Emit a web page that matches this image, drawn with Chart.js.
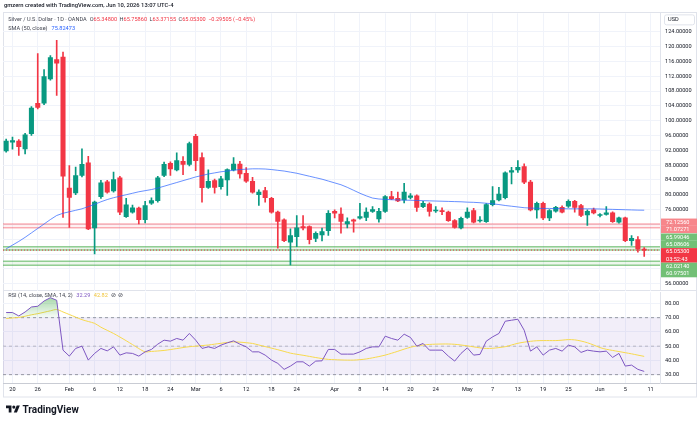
<!DOCTYPE html>
<html lang="en">
<head>
  <meta charset="UTF-8">
  <title>Silver / U.S. Dollar - 1D - OANDA</title>
  <script src="https://cdn.jsdelivr.net/npm/chart.js"></script>
  <style>
    html, body { margin: 0; padding: 0; background: #fff; }
    #page { position: relative; width: 700px; height: 423px; overflow: hidden; }
    #bg { position: absolute; left: 0; top: 0; }
    #priceBox { position: absolute; left: 3px; top: 13px; width: 694px; height: 277px; }
    #rsiBox { position: absolute; left: 3px; top: 290px; width: 694px; height: 107px; }
  </style>
</head>
<body>
<div id="page">
  <canvas id="bg" width="700" height="423"></canvas>
  <div id="priceBox"><canvas id="priceChart" width="694" height="277"></canvas></div>
  <div id="rsiBox"><canvas id="rsiChart" width="694" height="107"></canvas></div>
</div>

<script>
// ===== data =====
const dates = ['01-19','01-20','01-21','01-22','01-23','01-26','01-27','01-28','01-29','01-30',
  '02-02','02-03','02-04','02-05','02-06','02-09','02-10','02-11','02-12','02-13',
  '02-16','02-17','02-18','02-19','02-20','02-23','02-24','02-25','02-26','02-27',
  '03-02','03-03','03-04','03-05','03-06','03-09','03-10','03-11','03-12','03-13',
  '03-16','03-17','03-18','03-19','03-20','03-23','03-24','03-25','03-26','03-27','03-30','03-31',
  '04-01','04-02','04-06','04-07','04-08','04-09','04-10','04-13','04-14','04-15','04-16','04-17',
  '04-20','04-21','04-22','04-23','04-24','04-27','04-28','04-29','04-30',
  '05-01','05-04','05-05','05-06','05-07','05-08','05-11','05-12','05-13','05-14','05-15',
  '05-18','05-19','05-20','05-21','05-22','05-25','05-26','05-27','05-28','05-29',
  '06-01','06-02','06-03','06-04','06-05','06-08','06-09','06-10','06-11','06-12'];

const opens = [91.8,94.2,94.5,92.4,96.5,104.7,104.7,111.3,116.5,117.2,
  81.8,80.5,85.2,88.6,71.05,79.5,83.5,81.0,84.6,74.1,
  75.3,76.4,73.3,77.7,78.4,85.2,88.5,86.7,89.05,88.2,
  95.8,90.0,82.0,83.8,82.2,84.0,86.7,88.3,85.8,83.6,
  80.0,81.1,79.05,75.3,73.2,67.2,68.7,71.4,71.4,68.2,69.15,70.3,
  75.5,74.8,72.1,73.2,73.65,73.9,75.5,73.5,75.5,79.5,79.05,78.6,
  79.3,79.7,76.8,77.5,75.6,75.6,75.3,73.0,71.05,
  73.9,75.7,72.9,72.75,77.3,78.6,79.2,86.1,86.7,87.6,83.4,
  75.9,77.7,73.75,75.55,76.6,76.9,78.2,77.1,74.55,75.9,
  74.4,74.7,75.1,72.6,73.75,67.6,67.9,65.348];
const highs = [95.0,95.6,94.9,96.6,103.8,118.1,113.8,117.6,121.7,118.5,
  87.9,87.5,92.4,90.4,78.3,83.9,83.9,86.1,85.0,79.0,
  77.2,76.7,78.2,79.2,85.0,88.8,88.9,91.3,90.3,94.2,
  96.3,91.3,86.7,84.2,85.0,87.0,90.0,89.0,87.3,84.7,
  81.3,82.0,79.3,75.6,73.5,70.8,74.4,74.4,71.6,70.0,71.0,75.7,
  75.9,76.45,73.75,73.4,77.7,76.45,76.8,76.3,79.8,80.95,80.7,83.1,
  80.3,80.0,78.2,77.8,76.8,76.45,75.6,73.3,74.0,
  76.45,76.3,74.1,77.6,82.2,82.0,86.2,87.4,89.2,88.35,83.9,
  78.0,78.0,76.0,76.9,77.0,78.6,78.5,77.4,75.9,76.4,
  74.9,76.8,75.4,74.0,74.0,69.0,68.7,65.7586];
const lows = [91.5,92.3,90.6,91.0,96.0,103.2,104.3,110.9,106.8,73.9,
  71.2,80.0,84.8,70.6,64.0,79.0,80.4,80.7,74.6,73.9,
  75.0,72.1,72.4,77.4,78.0,84.9,85.2,86.4,85.4,87.8,
  86.5,78.0,81.7,80.4,81.5,79.8,86.4,84.5,83.3,80.4,
  77.1,78.0,75.0,65.6,67.3,61.05,66.0,70.5,66.7,67.35,67.5,69.0,
  73.75,69.6,71.05,69.9,73.4,73.0,75.2,72.6,75.2,78.7,78.1,77.8,
  78.9,75.5,76.5,74.2,75.2,74.6,72.8,71.0,70.8,
  73.6,72.4,72.6,72.5,77.0,78.3,78.9,82.9,86.0,83.0,75.6,
  73.65,73.3,73.0,75.3,75.1,76.6,75.3,74.1,71.7,74.8,
  74.0,74.5,72.5,72.3,67.3,66.3,64.5,63.37155];
const closes = [94.5,94.6,93.0,96.2,103.4,103.6,111.9,117.0,115.5,85.0,
  79.3,85.2,88.2,70.8,78.0,83.2,80.7,84.1,75.3,77.3,
  76.5,73.3,77.1,78.4,84.6,88.2,87.0,89.2,88.2,93.8,
  89.2,81.9,83.6,82.0,84.3,86.8,88.3,85.6,83.65,80.7,
  80.7,79.2,75.3,72.8,67.6,69.0,71.05,71.05,67.9,69.6,70.05,75.0,
  75.0,72.8,72.75,72.85,74.1,75.3,76.0,75.55,79.5,78.9,78.35,80.7,
  79.7,76.6,77.7,75.5,75.8,75.45,73.0,71.2,73.65,
  75.3,72.6,73.05,77.35,78.4,80.2,85.9,86.5,87.4,83.4,75.9,
  77.7,73.75,75.7,76.6,75.3,78.2,76.6,74.4,75.55,75.1,
  74.6,75.1,72.75,73.75,67.6,68.2,65.4,65.053];

const sma50 = [65.4,66.4,67.4,68.5,69.7,70.9,72.1,73.3,74.4,75.0,
  75.4,75.8,76.2,76.8,77.4,78.1,78.7,79.2,79.6,80.0,
  80.4,80.8,81.1,81.4,81.8,82.3,82.8,83.3,83.8,84.3,
  84.8,85.2,85.6,85.9,86.2,86.4,86.6,86.8,86.9,87.0,
  87.0,86.95,86.8,86.6,86.4,86.1,85.8,85.4,85.0,84.6,84.2,83.7,
  83.2,82.7,82.0,81.2,80.4,79.7,79.1,78.85,78.75,78.65,78.6,78.55,
  78.5,78.45,78.4,78.35,78.3,78.25,78.2,78.15,78.1,
  78.0,77.95,77.85,77.7,77.55,77.35,77.1,76.9,76.7,76.5,76.4,
  76.35,76.3,76.3,76.25,76.25,76.2,76.2,76.2,76.2,76.2,
  76.15,76.1,76.05,76.0,75.95,75.9,75.85,75.82473];

const rsi14 = [73.6,73.6,71.2,74.0,77.5,78.0,81.7,84.0,82.2,47.2,
  43.0,48.4,50.0,40.2,44.9,48.4,46.7,49.5,43.7,45.3,
  44.9,43.0,46.0,47.7,51.4,54.2,53.5,55.4,54.2,58.9,
  54.2,48.4,49.5,48.4,50.7,52.3,53.7,51.4,49.5,46.0,
  46.0,43.7,40.2,37.9,33.7,36.0,39.0,39.0,36.0,39.5,39.7,47.7,
  47.7,44.4,44.4,44.4,46.0,48.4,49.5,49.5,57.0,55.4,54.2,58.4,
  56.1,50.0,51.9,47.2,47.2,47.2,43.0,39.5,44.9,
  48.8,43.7,44.2,53.5,56.5,58.9,67.5,68.2,68.9,61.2,46.5,
  49.5,43.7,47.2,48.4,46.5,50.7,49.5,45.6,47.2,46.5,
  46.0,46.5,42.1,44.9,36.0,36.7,33.7,32.29];
const rsiMa = [69.4,69.8,70.2,71.0,72.0,72.8,73.8,74.8,75.7,74.0,
  72.2,70.4,68.6,67.3,66.0,63.3,61.1,58.9,56.4,53.8,
  51.1,48.3,46.0,46.3,46.6,47.0,47.6,48.3,49.0,49.6,
  50.0,50.4,50.8,51.4,52.0,52.6,53.0,52.8,52.4,51.9,
  50.8,49.7,48.6,47.5,46.3,45.1,44.3,43.6,42.8,42.0,41.3,40.7,
  40.5,40.3,40.2,40.2,40.5,41.0,41.8,42.7,43.7,45.0,46.4,47.9,
  49.2,50.2,50.8,51.2,51.4,51.5,51.5,51.3,50.8,
  50.2,49.5,48.8,48.4,48.5,49.0,49.6,50.8,52.0,52.8,53.4,
  53.8,53.9,53.9,53.9,54.2,54.6,54.4,53.6,52.4,50.8,
  49.0,47.8,47.0,46.2,45.4,44.6,43.7,42.82];

const priceTicks = [56, 60, 64, 68, 72, 76, 80, 84, 88, 92, 96, 100, 104, 108, 112, 116, 120, 124];
const rsiTicks = [30, 40, 50, 60, 70, 80];
const tickDates = ['01-20','01-26','02-02','02-06','02-12','02-18','02-24','03-02','03-06','03-12','03-18','03-24',
  '04-01','04-08','04-14','04-20','04-24','05-01','05-07','05-13','05-19','05-25','06-01','06-05','06-11'];
const tickText = ['20','26','Feb','6','12','18','24','Mar','6','12','18','24',
  'Apr','8','14','20','24','May','7','13','19','25','Jun','5','11'];

const redZone = [72.1256, 71.07271];
const greenZoneHigh = [65.99046, 65.08606];
const greenZoneLow = [62.0214, 60.97501];
const lastPrice = 65.053;
const countdown = '03:52:43';

// ===== styling =====
const UP = '#089981';
const DOWN = '#f23645';
const FONT = 'Roboto, "Noto Sans", sans-serif';
const TXT = '#131722';
const GRID = '#f0f3fa';
const AXIS_W = 37;
const LABEL_H = 7.3;

Chart.defaults.font.family = FONT;

const wicks = lows.map((l, i) => [l, highs[i]]);
const bodies = opens.map((o, i) => [o, closes[i]]);
const candleColor = ctx => closes[ctx.dataIndex] >= opens[ctx.dataIndex] ? UP : DOWN;

const tickMap = new Map(tickDates.map((d, k) => [dates.indexOf(d), tickText[k]]));
const vGrid = ctx => tickMap.has(ctx.index) ? GRID : 'rgba(0,0,0,0)';
const tickFont = { family: FONT, size: 5.6 };

// spread axis labels so they do not overlap (price order kept)
function spreadLabels(items) {
  const groups = [];
  items.forEach(it => {
    groups.push({ list: [it], top: it.y - LABEL_H / 2 });
    while (groups.length > 1) {
      const b = groups[groups.length - 1];
      const a = groups[groups.length - 2];
      const aH = a.list.reduce((s, t) => s + t.rows * LABEL_H, 0);
      if (a.top + aH <= b.top) break;
      a.list = a.list.concat(b.list);
      let off = 0, sum = 0;
      a.list.forEach(t => { sum += t.y - LABEL_H / 2 - off; off += t.rows * LABEL_H; });
      a.top = sum / a.list.length;
      groups.pop();
    }
  });
  groups.forEach(g => {
    let top = g.top;
    g.list.forEach(t => { t.top = top; top += t.rows * LABEL_H; });
  });
}

function drawRuns(ctx, x, y, runs) {
  runs.forEach(r => {
    if (r.gap) { x += r.gap; return; }
    ctx.fillStyle = r.c;
    ctx.fillText(r.t, x, y);
    x += ctx.measureText(r.t).width;
  });
}

// move/resize a chart's canvas so its plot area sits on the wanted page rows
function fitPlotArea(chart, boxId, wantTop, wantBottom) {
  const a = chart.chartArea;
  const box = document.getElementById(boxId);
  const newH = Math.round(chart.height + (wantBottom - wantTop) - (a.bottom - a.top));
  box.style.top = (wantTop - a.top) + 'px';
  box.style.height = newH + 'px';
  chart.resize(chart.width, newH);
}

// ===== price pane plugin =====
const pricePlugin = {
  id: 'pricePane',
  beforeDatasetsDraw(chart) {
    const { ctx, chartArea: a, scales: { y } } = chart;
    ctx.save();
    ctx.beginPath();
    ctx.rect(a.left, a.top, a.right - a.left, a.bottom - a.top);
    ctx.clip();
    const zones = [
      { v: redZone, fill: 'rgba(242,54,69,0.07)', line: 'rgba(242,54,69,0.38)' },
      { v: greenZoneHigh, fill: 'rgba(76,175,80,0.10)', line: 'rgba(76,175,80,0.6)' },
      { v: greenZoneLow, fill: 'rgba(76,175,80,0.10)', line: 'rgba(76,175,80,0.6)' }
    ];
    zones.forEach(z => {
      const y1 = y.getPixelForValue(z.v[0]);
      const y2 = y.getPixelForValue(z.v[1]);
      ctx.fillStyle = z.fill;
      ctx.fillRect(a.left, y1, a.right - a.left, y2 - y1);
      ctx.strokeStyle = z.line;
      ctx.lineWidth = 1.5;
      [y1, y2].forEach(yy => {
        ctx.beginPath(); ctx.moveTo(a.left, yy); ctx.lineTo(a.right, yy); ctx.stroke();
      });
    });
    const yl = y.getPixelForValue(lastPrice);
    ctx.strokeStyle = DOWN;
    ctx.lineWidth = 1;
    ctx.setLineDash([1, 2]);
    ctx.beginPath(); ctx.moveTo(a.left, yl); ctx.lineTo(a.right, yl); ctx.stroke();
    ctx.restore();
  },
  afterDraw(chart) {
    const { ctx, chartArea: a, scales: { y } } = chart;
    const t0 = a.top;
    ctx.save();
    ctx.font = '5.6px ' + FONT;
    ctx.textBaseline = 'middle';

    // legend
    const gray = '#434651';
    drawRuns(ctx, 5.3, t0 + 6.5, [
      { t: 'Silver / U.S. Dollar · 1D · OANDA', c: gray }, { gap: 3 },
      { t: 'O', c: gray }, { t: '65.34800', c: DOWN }, { gap: 2.5 },
      { t: 'H', c: gray }, { t: '65.75860', c: DOWN }, { gap: 2.5 },
      { t: 'L', c: gray }, { t: '63.37155', c: DOWN }, { gap: 2.5 },
      { t: 'C', c: gray }, { t: '65.05300', c: DOWN }, { gap: 2.5 },
      { t: '\u22120.29505 (\u22120.45%)', c: DOWN }
    ]);
    drawRuns(ctx, 5.3, t0 + 15.3, [
      { t: 'SMA (50, close)', c: gray }, { gap: 4 },
      { t: '75.82473', c: '#2962ff' }
    ]);

    // USD box
    const bx = a.right + 4;
    ctx.strokeStyle = '#e0e3eb';
    ctx.lineWidth = 1;
    ctx.beginPath();
    ctx.roundRect(bx + 0.5, t0 + 1.5, 30, 10, 2);
    ctx.stroke();
    ctx.fillStyle = TXT;
    ctx.fillText('USD', bx + 4, t0 + 6.6);

    // price labels on the axis
    const items = [
      { v: redZone[0], bg: '#f7868b', rows: 1 },
      { v: redZone[1], bg: '#f7868b', rows: 1 },
      { v: greenZoneHigh[0], bg: '#72c076', rows: 1 },
      { v: greenZoneHigh[1], bg: '#72c076', rows: 1 },
      { v: lastPrice, bg: DOWN, rows: 2, extra: countdown },
      { v: greenZoneLow[0], bg: '#72c076', rows: 1 },
      { v: greenZoneLow[1], bg: '#72c076', rows: 1 }
    ].map(it => Object.assign(it, { y: y.getPixelForValue(it.v) }));
    items.sort((p, q) => p.y - q.y);
    spreadLabels(items);
    items.forEach(it => {
      ctx.fillStyle = it.bg;
      ctx.fillRect(a.right + 1, it.top, chart.width - a.right - 1, it.rows * LABEL_H);
      ctx.fillStyle = '#ffffff';
      ctx.fillText(it.v.toFixed(5), a.right + 6, it.top + LABEL_H / 2 + 0.3);
      if (it.extra) ctx.fillText(it.extra, a.right + 6, it.top + LABEL_H * 1.5 + 0.3);
    });
    ctx.restore();
  }
};

const priceChart = new Chart(document.getElementById('priceChart'), {
  type: 'bar',
  data: {
    labels: dates,
    datasets: [
      { type: 'line', label: 'SMA 50', data: sma50, borderColor: 'rgba(41,98,255,0.7)',
        borderWidth: 1, pointRadius: 0, tension: 0, order: 0 },
      { label: 'body', data: bodies, backgroundColor: candleColor, barThickness: 4.4,
        grouped: false, minBarLength: 1, borderWidth: 0, order: 1 },
      { label: 'wick', data: wicks, backgroundColor: candleColor, barThickness: 1,
        grouped: false, borderWidth: 0, order: 2 }
    ]
  },
  options: {
    responsive: false,
    maintainAspectRatio: false,
    animation: false,
    events: [],
    layout: { autoPadding: false, padding: 0 },
    plugins: { legend: { display: false }, tooltip: { enabled: false } },
    scales: {
      x: {
        offset: true,
        grid: { offset: false, color: vGrid, drawTicks: false },
        border: { display: false },
        ticks: { display: false, autoSkip: false },
        afterFit: s => { s.height = 0; }
      },
      y: {
        position: 'right',
        min: 54.11,
        max: 128.97,
        afterBuildTicks: s => { s.ticks = priceTicks.map(v => ({ value: v })); },
        grid: { color: GRID, drawTicks: false },
        border: { display: true, color: '#e0e3eb' },
        ticks: { font: tickFont, color: TXT, padding: 5, callback: v => v.toFixed(5) },
        afterFit: s => { s.width = AXIS_W; }
      }
    }
  },
  plugins: [pricePlugin]
});

// ===== RSI pane =====
const rsiPlugin = {
  id: 'rsiPane',
  beforeDatasetsDraw(chart) {
    const { ctx, chartArea: a, scales: { y } } = chart;
    const y70 = y.getPixelForValue(70), y50 = y.getPixelForValue(50), y30 = y.getPixelForValue(30);
    ctx.save();
    ctx.fillStyle = 'rgba(126,87,194,0.1)';
    ctx.fillRect(a.left, y70, a.right - a.left, y30 - y70);
    ctx.lineWidth = 1;
    ctx.setLineDash([3, 3]);
    [[y70, 'rgba(120,123,134,0.75)'], [y50, 'rgba(120,123,134,0.45)'], [y30, 'rgba(120,123,134,0.75)']].forEach(([yy, c]) => {
      ctx.strokeStyle = c;
      ctx.beginPath(); ctx.moveTo(a.left, yy); ctx.lineTo(a.right, yy); ctx.stroke();
    });
    ctx.restore();
  },
  afterDraw(chart) {
    const { ctx, chartArea: a } = chart;
    ctx.save();
    ctx.font = '5.6px ' + FONT;
    ctx.textBaseline = 'middle';
    drawRuns(ctx, 5.3, a.top + 2.8, [
      { t: 'RSI (14, close, SMA, 14, 2)', c: '#434651' }, { gap: 3.5 },
      { t: '32.29', c: '#7e57c2' }, { gap: 3.5 },
      { t: '42.82', c: '#f0c53c' }, { gap: 3.5 },
      { t: '\u2298', c: '#434651' }, { gap: 2 },
      { t: '\u2298', c: '#434651' }
    ]);
    ctx.restore();
  }
};

const rsiChart = new Chart(document.getElementById('rsiChart'), {
  type: 'line',
  data: {
    labels: dates,
    datasets: [
      { label: 'RSI', data: rsi14, borderColor: '#7e57c2', borderWidth: 1, pointRadius: 0, tension: 0,
        fill: { target: { value: 70 }, above: 'rgba(76,175,80,0.3)', below: 'rgba(0,0,0,0)' }, order: 0 },
      { label: 'RSI MA', data: rsiMa, borderColor: '#f7d94c', borderWidth: 1, pointRadius: 0,
        tension: 0.3, fill: false, order: 1 }
    ]
  },
  options: {
    responsive: false,
    maintainAspectRatio: false,
    animation: false,
    events: [],
    layout: { autoPadding: false, padding: 0 },
    plugins: { legend: { display: false }, tooltip: { enabled: false } },
    scales: {
      x: {
        offset: true,
        grid: { offset: false, color: vGrid, drawTicks: false },
        border: { display: false },
        ticks: {
          autoSkip: false, maxRotation: 0, minRotation: 0, padding: 3,
          font: tickFont, color: TXT,
          callback: (v, i) => tickMap.get(i) || ''
        },
        afterFit: s => { s.height = 14; }
      },
      y: {
        position: 'right',
        min: 24.13,
        max: 87.76,
        afterBuildTicks: s => { s.ticks = rsiTicks.map(v => ({ value: v })); },
        grid: { color: GRID, drawTicks: false },
        border: { display: true, color: '#e0e3eb' },
        ticks: { font: tickFont, color: TXT, padding: 5, callback: v => v.toFixed(2) },
        afterFit: s => { s.width = AXIS_W; }
      }
    }
  },
  plugins: [rsiPlugin]
});

// put both plot areas on the rows used by the reference
fitPlotArea(priceChart, 'priceBox', 13, 290);
fitPlotArea(rsiChart, 'rsiBox', 292, 383);

// green gradient above the 70 line
const ry = rsiChart.scales.y;
const grad = rsiChart.ctx.createLinearGradient(0, ry.getPixelForValue(86), 0, ry.getPixelForValue(70));
grad.addColorStop(0, 'rgba(76,175,80,0.55)');
grad.addColorStop(1, 'rgba(76,175,80,0.04)');
rsiChart.data.datasets[0].fill.above = grad;
rsiChart.update('none');

// ===== page frame, header and logo =====
const bg = document.getElementById('bg').getContext('2d');
bg.fillStyle = '#ffffff';
bg.fillRect(0, 0, 700, 423);
bg.font = '500 5.8px ' + FONT;
bg.textBaseline = 'middle';
bg.fillStyle = TXT;
bg.fillText('gmzern created with TradingView.com, Jun 10, 2026 13:07 UTC-4', 4, 5.5);

bg.strokeStyle = '#e0e3eb';
bg.lineWidth = 1;
bg.strokeRect(3.5, 12.5, 693, 384.5);
bg.beginPath(); bg.moveTo(3, 290.5); bg.lineTo(697, 290.5); bg.stroke();
bg.strokeStyle = '#c9ccd4';
bg.beginPath(); bg.moveTo(3, 383.5); bg.lineTo(697, 383.5); bg.stroke();

bg.save();
bg.translate(6, 404);
bg.scale(0.39, 0.39);
bg.fillStyle = TXT;
bg.fill(new Path2D('M14 22H7V11H0V4h14v18z'));
bg.beginPath(); bg.arc(20, 8, 4, 0, Math.PI * 2); bg.fill();
bg.fill(new Path2D('M28 22h-8l7.5-18h8L28 22z'));
bg.restore();
bg.font = '700 10px ' + FONT;
bg.textBaseline = 'alphabetic';
bg.fillText('TradingView', 22.5, 413);
</script>
</body>
</html>
